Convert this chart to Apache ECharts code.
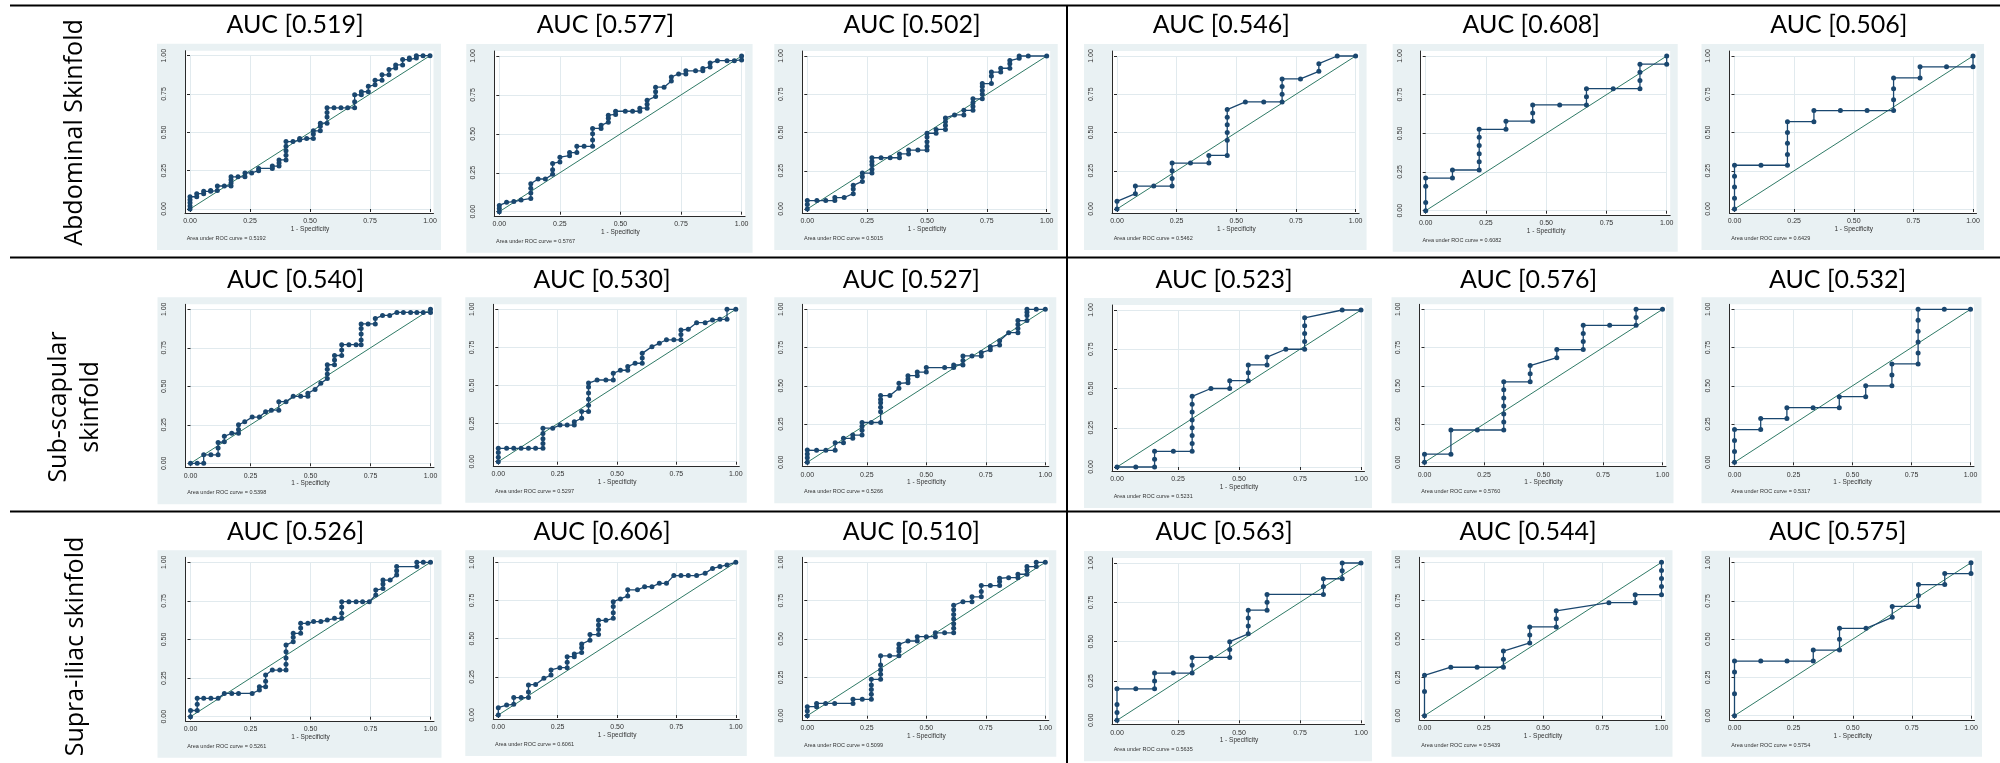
<!DOCTYPE html>
<html><head><meta charset="utf-8">
<script src="https://cdn.jsdelivr.net/npm/echarts@6.0.0/dist/echarts.min.js"></script>
<style>html,body{margin:0;padding:0;background:#fff}#c{width:2000px;height:763px}</style>
</head><body><div id="c"></div>
<script>
// ---------------- DATA ----------------
const rowLabels = ['Abdominal Skinfold', 'Sub-scapular\nskinfold', 'Supra-iliac skinfold'];
const aucTitles = ['0.519','0.577','0.502','0.546','0.608','0.506',
                   '0.540','0.530','0.527','0.523','0.576','0.532',
                   '0.526','0.606','0.510','0.563','0.544','0.575'];
const aucFootnotes = ['0.5192','0.5767','0.5015','0.5462','0.6082','0.6429',
                      '0.5398','0.5297','0.5266','0.5231','0.5760','0.5317',
                      '0.5261','0.6061','0.5099','0.5635','0.5439','0.5754'];
const axisTicks = [0, 0.25, 0.5, 0.75, 1];
const xAxisName = '1 - Specificity';
const diagonal = [[0,0],[1,1]];

const roc_abd_1 = [[0,0],[0,0.02],[0,0.04],[0,0.06],[0,0.08],[0.028,0.08],[0.028,0.10],[0.057,0.10],[0.057,0.115],[0.086,0.115],[0.086,0.12],[0.114,0.12],[0.114,0.15],[0.143,0.15],[0.171,0.15],[0.171,0.17],[0.171,0.19],[0.171,0.21],[0.2,0.21],[0.229,0.21],[0.229,0.235],[0.257,0.235],[0.286,0.25],[0.286,0.265],[0.343,0.265],[0.343,0.28],[0.371,0.28],[0.371,0.30],[0.371,0.32],[0.4,0.32],[0.4,0.35],[0.4,0.38],[0.4,0.41],[0.4,0.44],[0.429,0.44],[0.457,0.45],[0.457,0.46],[0.486,0.46],[0.514,0.46],[0.514,0.49],[0.514,0.51],[0.543,0.51],[0.543,0.54],[0.543,0.56],[0.571,0.56],[0.571,0.6],[0.571,0.63],[0.571,0.66],[0.6,0.66],[0.629,0.66],[0.657,0.66],[0.686,0.66],[0.686,0.7],[0.686,0.745],[0.714,0.745],[0.714,0.765],[0.743,0.765],[0.743,0.8],[0.771,0.81],[0.771,0.84],[0.8,0.84],[0.8,0.875],[0.829,0.875],[0.829,0.91],[0.857,0.92],[0.857,0.94],[0.886,0.94],[0.886,0.975],[0.914,0.975],[0.914,0.985],[0.943,0.985],[0.943,1],[0.971,1],[1,1]];
const roc_abd_2 = [[0,0],[0,0.02],[0,0.04],[0.03,0.06],[0.06,0.065],[0.09,0.075],[0.13,0.085],[0.13,0.12],[0.13,0.15],[0.13,0.18],[0.16,0.21],[0.19,0.21],[0.22,0.24],[0.22,0.27],[0.22,0.31],[0.25,0.32],[0.25,0.35],[0.29,0.36],[0.29,0.38],[0.32,0.38],[0.32,0.42],[0.35,0.42],[0.385,0.42],[0.385,0.46],[0.385,0.50],[0.385,0.535],[0.42,0.535],[0.42,0.555],[0.45,0.575],[0.45,0.6],[0.45,0.62],[0.48,0.625],[0.48,0.645],[0.52,0.645],[0.55,0.645],[0.58,0.645],[0.58,0.665],[0.61,0.665],[0.61,0.69],[0.61,0.715],[0.645,0.74],[0.645,0.77],[0.645,0.80],[0.68,0.80],[0.71,0.84],[0.71,0.865],[0.74,0.885],[0.77,0.885],[0.77,0.905],[0.81,0.905],[0.84,0.905],[0.84,0.92],[0.87,0.93],[0.87,0.955],[0.9,0.97],[0.94,0.97],[0.97,0.97],[1,0.975],[1,1]];
const roc_abd_3 = [[0,0],[0,0.03],[0,0.055],[0.04,0.055],[0.077,0.055],[0.115,0.055],[0.115,0.075],[0.154,0.075],[0.192,0.1],[0.192,0.13],[0.192,0.155],[0.23,0.18],[0.23,0.21],[0.23,0.235],[0.27,0.235],[0.27,0.26],[0.27,0.29],[0.27,0.31],[0.27,0.335],[0.308,0.335],[0.346,0.335],[0.385,0.335],[0.385,0.36],[0.423,0.36],[0.423,0.385],[0.462,0.385],[0.5,0.385],[0.5,0.41],[0.5,0.44],[0.5,0.47],[0.5,0.495],[0.538,0.495],[0.538,0.52],[0.577,0.52],[0.577,0.545],[0.577,0.57],[0.577,0.595],[0.615,0.615],[0.654,0.615],[0.654,0.645],[0.692,0.645],[0.692,0.67],[0.692,0.695],[0.692,0.72],[0.731,0.72],[0.731,0.75],[0.731,0.775],[0.731,0.8],[0.731,0.82],[0.769,0.82],[0.769,0.87],[0.769,0.895],[0.808,0.895],[0.808,0.92],[0.846,0.92],[0.846,0.95],[0.846,0.97],[0.885,0.985],[0.885,1],[0.923,1],[1,1]];
const roc_abd_4 = [[0,0],[0,0.05],[0.077,0.1],[0.077,0.15],[0.154,0.15],[0.231,0.15],[0.231,0.2],[0.231,0.25],[0.231,0.3],[0.308,0.3],[0.385,0.3],[0.385,0.35],[0.462,0.35],[0.462,0.45],[0.462,0.5],[0.462,0.55],[0.462,0.6],[0.462,0.65],[0.538,0.7],[0.615,0.7],[0.692,0.7],[0.692,0.75],[0.692,0.8],[0.692,0.85],[0.769,0.85],[0.846,0.9],[0.846,0.95],[0.923,1],[1,1]];
const roc_abd_5 = [[0,0],[0,0.053],[0,0.158],[0,0.211],[0.111,0.211],[0.111,0.263],[0.222,0.263],[0.222,0.316],[0.222,0.368],[0.222,0.421],[0.222,0.474],[0.222,0.526],[0.333,0.526],[0.333,0.579],[0.444,0.579],[0.444,0.632],[0.444,0.684],[0.556,0.684],[0.667,0.684],[0.667,0.737],[0.667,0.789],[0.778,0.789],[0.889,0.789],[0.889,0.842],[0.889,0.895],[0.889,0.947],[1,0.947],[1,1]];
const roc_abd_6 = [[0,0],[0,0.071],[0,0.143],[0,0.214],[0,0.286],[0.111,0.286],[0.222,0.286],[0.222,0.357],[0.222,0.429],[0.222,0.5],[0.222,0.571],[0.333,0.571],[0.333,0.643],[0.444,0.643],[0.556,0.643],[0.667,0.643],[0.667,0.714],[0.667,0.786],[0.667,0.857],[0.778,0.857],[0.778,0.929],[0.889,0.929],[1,0.929],[1,1]];

const roc_sub_1 = [[0,0],[0.028,0],[0.055,0],[0.055,0.055],[0.085,0.055],[0.115,0.055],[0.115,0.1],[0.115,0.135],[0.141,0.14],[0.141,0.175],[0.172,0.195],[0.2,0.195],[0.2,0.22],[0.2,0.25],[0.226,0.27],[0.257,0.3],[0.287,0.3],[0.313,0.335],[0.337,0.345],[0.368,0.345],[0.368,0.4],[0.398,0.4],[0.428,0.435],[0.459,0.435],[0.489,0.435],[0.489,0.455],[0.519,0.48],[0.543,0.52],[0.57,0.55],[0.57,0.58],[0.57,0.61],[0.57,0.64],[0.6,0.64],[0.6,0.67],[0.6,0.7],[0.63,0.7],[0.63,0.735],[0.63,0.77],[0.66,0.77],[0.69,0.77],[0.711,0.77],[0.711,0.8],[0.711,0.84],[0.711,0.875],[0.711,0.905],[0.74,0.905],[0.77,0.905],[0.77,0.94],[0.8,0.96],[0.83,0.96],[0.86,0.98],[0.887,0.98],[0.917,0.98],[0.943,0.98],[0.97,0.98],[1,0.98],[1,1]];
const roc_sub_2 = [[0,0],[0,0.03],[0,0.06],[0,0.088],[0.035,0.088],[0.065,0.088],[0.096,0.088],[0.127,0.088],[0.157,0.088],[0.188,0.088],[0.188,0.12],[0.188,0.15],[0.188,0.185],[0.188,0.22],[0.229,0.22],[0.26,0.24],[0.29,0.24],[0.32,0.24],[0.32,0.262],[0.351,0.285],[0.351,0.33],[0.38,0.33],[0.38,0.37],[0.38,0.41],[0.38,0.45],[0.38,0.49],[0.38,0.516],[0.416,0.536],[0.453,0.536],[0.484,0.536],[0.484,0.58],[0.514,0.6],[0.545,0.6],[0.545,0.624],[0.576,0.646],[0.606,0.646],[0.606,0.68],[0.606,0.711],[0.647,0.755],[0.678,0.777],[0.708,0.8],[0.739,0.8],[0.769,0.8],[0.769,0.835],[0.769,0.864],[0.8,0.869],[0.835,0.912],[0.871,0.912],[0.902,0.93],[0.933,0.934],[0.963,0.934],[0.963,1],[1,1]];
const roc_sub_3 = [[0,0],[0,0.03],[0,0.055],[0,0.08],[0.039,0.078],[0.078,0.078],[0.117,0.078],[0.117,0.128],[0.152,0.128],[0.152,0.157],[0.191,0.157],[0.191,0.178],[0.23,0.178],[0.23,0.21],[0.23,0.235],[0.23,0.26],[0.269,0.26],[0.308,0.26],[0.308,0.33],[0.308,0.36],[0.308,0.39],[0.308,0.41],[0.308,0.436],[0.347,0.436],[0.385,0.484],[0.385,0.516],[0.423,0.52],[0.423,0.545],[0.423,0.566],[0.462,0.566],[0.462,0.59],[0.5,0.59],[0.5,0.619],[0.577,0.619],[0.615,0.619],[0.615,0.636],[0.654,0.636],[0.654,0.665],[0.654,0.695],[0.692,0.695],[0.731,0.695],[0.731,0.717],[0.769,0.735],[0.769,0.756],[0.808,0.767],[0.808,0.795],[0.846,0.847],[0.885,0.847],[0.885,0.875],[0.885,0.9],[0.885,0.926],[0.923,0.926],[0.923,0.96],[0.923,0.98],[0.923,1],[0.962,1],[1,1]];
const roc_sub_4 = [[0,0],[0.077,0],[0.154,0],[0.154,0.05],[0.154,0.1],[0.231,0.1],[0.308,0.1],[0.308,0.15],[0.308,0.2],[0.308,0.25],[0.308,0.3],[0.308,0.35],[0.308,0.4],[0.308,0.45],[0.385,0.5],[0.462,0.5],[0.462,0.55],[0.538,0.55],[0.538,0.6],[0.538,0.65],[0.615,0.65],[0.615,0.7],[0.692,0.75],[0.769,0.75],[0.769,0.8],[0.769,0.85],[0.769,0.9],[0.769,0.95],[0.923,1],[1,1]];
const roc_sub_5 = [[0,0],[0,0.053],[0.111,0.053],[0.111,0.211],[0.222,0.211],[0.333,0.211],[0.333,0.263],[0.333,0.316],[0.333,0.368],[0.333,0.421],[0.333,0.474],[0.333,0.526],[0.444,0.526],[0.444,0.579],[0.444,0.632],[0.556,0.684],[0.556,0.737],[0.667,0.737],[0.667,0.789],[0.667,0.842],[0.667,0.895],[0.778,0.895],[0.889,0.895],[0.889,0.947],[0.889,1],[1,1]];
const roc_sub_6 = [[0,0],[0,0.071],[0,0.143],[0,0.214],[0.111,0.214],[0.111,0.286],[0.222,0.286],[0.222,0.357],[0.333,0.357],[0.444,0.357],[0.444,0.429],[0.556,0.429],[0.556,0.5],[0.667,0.5],[0.667,0.571],[0.667,0.643],[0.778,0.643],[0.778,0.714],[0.778,0.786],[0.778,0.857],[0.778,0.929],[0.778,1],[0.889,1],[1,1]];

const roc_sup_1 = [[0,0],[0,0.04],[0.028,0.04],[0.028,0.08],[0.028,0.119],[0.055,0.119],[0.085,0.119],[0.115,0.119],[0.141,0.151],[0.172,0.151],[0.2,0.151],[0.257,0.151],[0.287,0.173],[0.287,0.194],[0.313,0.194],[0.313,0.23],[0.313,0.27],[0.341,0.302],[0.372,0.302],[0.398,0.302],[0.398,0.34],[0.398,0.38],[0.398,0.42],[0.398,0.464],[0.428,0.486],[0.428,0.515],[0.428,0.54],[0.459,0.54],[0.459,0.575],[0.459,0.605],[0.489,0.605],[0.513,0.616],[0.543,0.616],[0.57,0.626],[0.6,0.637],[0.63,0.637],[0.63,0.67],[0.63,0.71],[0.63,0.745],[0.66,0.745],[0.69,0.745],[0.717,0.745],[0.745,0.745],[0.772,0.788],[0.772,0.82],[0.802,0.83],[0.802,0.86],[0.802,0.885],[0.832,0.885],[0.859,0.918],[0.859,0.945],[0.859,0.972],[0.943,0.972],[0.943,1],[0.97,1],[1,1]];
const roc_sup_2 = [[0,0],[0,0.048],[0.035,0.065],[0.065,0.07],[0.065,0.114],[0.096,0.114],[0.127,0.114],[0.127,0.15],[0.127,0.197],[0.157,0.2],[0.192,0.24],[0.222,0.262],[0.222,0.295],[0.259,0.31],[0.29,0.31],[0.29,0.345],[0.29,0.382],[0.32,0.382],[0.32,0.4],[0.351,0.41],[0.351,0.44],[0.351,0.465],[0.386,0.49],[0.386,0.527],[0.422,0.527],[0.422,0.56],[0.422,0.59],[0.422,0.62],[0.453,0.62],[0.484,0.633],[0.484,0.67],[0.484,0.71],[0.484,0.742],[0.514,0.76],[0.545,0.78],[0.545,0.82],[0.586,0.82],[0.616,0.84],[0.647,0.84],[0.678,0.862],[0.708,0.862],[0.739,0.913],[0.769,0.913],[0.8,0.913],[0.835,0.913],[0.871,0.928],[0.902,0.96],[0.933,0.972],[0.963,0.983],[1,1]];
const roc_sup_3 = [[0,0],[0,0.03],[0,0.059],[0.039,0.059],[0.039,0.08],[0.077,0.08],[0.115,0.08],[0.192,0.08],[0.192,0.107],[0.231,0.107],[0.269,0.107],[0.269,0.14],[0.269,0.17],[0.269,0.2],[0.269,0.237],[0.308,0.237],[0.308,0.27],[0.308,0.3],[0.308,0.33],[0.308,0.39],[0.346,0.39],[0.385,0.39],[0.385,0.42],[0.385,0.44],[0.385,0.465],[0.423,0.487],[0.462,0.487],[0.462,0.515],[0.5,0.515],[0.538,0.515],[0.538,0.54],[0.577,0.54],[0.615,0.54],[0.615,0.57],[0.615,0.6],[0.615,0.63],[0.615,0.66],[0.615,0.69],[0.615,0.72],[0.654,0.743],[0.692,0.743],[0.692,0.775],[0.731,0.775],[0.731,0.81],[0.731,0.848],[0.769,0.848],[0.808,0.848],[0.808,0.875],[0.808,0.896],[0.846,0.9],[0.885,0.9],[0.885,0.922],[0.923,0.922],[0.923,0.95],[0.923,0.972],[0.962,0.972],[0.962,1],[1,1]];
const roc_sup_4 = [[0,0],[0,0.05],[0,0.1],[0,0.2],[0.077,0.2],[0.154,0.2],[0.154,0.25],[0.154,0.3],[0.231,0.3],[0.308,0.3],[0.308,0.35],[0.308,0.4],[0.385,0.4],[0.462,0.4],[0.462,0.45],[0.462,0.5],[0.538,0.55],[0.538,0.6],[0.538,0.65],[0.538,0.7],[0.615,0.7],[0.615,0.75],[0.615,0.8],[0.846,0.8],[0.846,0.85],[0.846,0.9],[0.923,0.9],[0.923,0.95],[0.923,1],[1,1]];
const roc_sup_5 = [[0,0],[0,0.158],[0,0.263],[0.111,0.316],[0.222,0.316],[0.333,0.316],[0.333,0.368],[0.333,0.421],[0.444,0.474],[0.444,0.526],[0.444,0.579],[0.556,0.579],[0.556,0.632],[0.556,0.684],[0.778,0.737],[0.889,0.737],[0.889,0.789],[1,0.789],[1,0.842],[1,0.895],[1,0.947],[1,1]];
const roc_sup_6 = [[0,0],[0,0.143],[0,0.286],[0,0.357],[0.111,0.357],[0.222,0.357],[0.333,0.357],[0.333,0.429],[0.444,0.429],[0.444,0.5],[0.444,0.571],[0.556,0.571],[0.667,0.643],[0.667,0.714],[0.778,0.714],[0.778,0.786],[0.778,0.857],[0.889,0.857],[0.889,0.929],[1,0.929],[1,1]];

const rocCurves = [roc_abd_1, roc_abd_2, roc_abd_3, roc_abd_4, roc_abd_5, roc_abd_6,
                   roc_sub_1, roc_sub_2, roc_sub_3, roc_sub_4, roc_sub_5, roc_sub_6,
                   roc_sup_1, roc_sup_2, roc_sup_3, roc_sup_4, roc_sup_5, roc_sup_6];

// ---------------- LAYOUT (pixels) ----------------
// data rectangle of each panel: [left, top, width, height]
const panelRects = [
  [190, 55.7, 240, 153.3], [499.3, 56, 242.3, 155.7], [807.3, 56, 239.4, 153],
  [1117, 56, 238.6, 153], [1425.7, 56, 241, 154.7], [1734.5, 56, 238.5, 153],
  [190.5, 309.3, 240, 154], [498.3, 309.3, 237.5, 152.4], [807.3, 309.3, 238, 153],
  [1117, 310, 244, 157], [1424.5, 309.3, 238, 153], [1734.5, 309.3, 236, 153],
  [190.5, 562.3, 240, 154.4], [498.3, 562.3, 237.5, 152.7], [807.3, 562.3, 238, 153.4],
  [1117, 563, 244, 157.3], [1424.5, 562.3, 237, 153.4], [1734.5, 562.7, 236.5, 153]
];
const titleRowY = [25, 280, 532];
const rowLabelPos = [[75, 132.5], [75, 407], [76, 646.5]];

const BG = '#E9F1F3', GRIDC = '#E1EAEE', AXC = '#2a2a2a', NAVY = '#1A476F', REF = '#2F7A66';
const TICKFONT = '"Liberation Sans", Arial, sans-serif';

const grids = [], xAxes = [], yAxes = [], series = [], graphics = [];
const N = panelRects.length;
const tMin = axisTicks[0], tMax = axisTicks[axisTicks.length - 1], tInt = axisTicks[1] - axisTicks[0];

panelRects.forEach((r, i) => {
  const [L, T, Wd, H] = r;
  grids[i] = {left: L, top: T, width: Wd, height: H, z: 2, outerBoundsMode: 'none', containLabel: false};
  grids[N + i] = {left: L - 5, top: T - 5, width: Wd + 8.5, height: H + 9.3, show: true,
                  backgroundColor: '#ffffff', borderWidth: 0, z: 1, outerBoundsMode: 'none', containLabel: false};
  grids[2 * N + i] = {left: L - 33, top: T - 12, width: Wd + 44, height: H + 53, show: true,
                      backgroundColor: BG, borderWidth: 0, z: 0, outerBoundsMode: 'none', containLabel: false};

  xAxes[i] = {type: 'value', gridIndex: i, min: tMin, max: tMax, interval: tInt, position: 'bottom', offset: 4.3, z: 3,
    axisLine: {show: false},
    axisTick: {show: true, length: 3, lineStyle: {color: AXC, width: 1}},
    axisLabel: {show: true, fontSize: 7, color: '#333', margin: 4.5, fontFamily: TICKFONT, formatter: v => v.toFixed(2)},
    splitLine: {show: true, lineStyle: {color: GRIDC, width: 1}},
    name: xAxisName, nameLocation: 'middle', nameGap: 12.5,
    nameTextStyle: {fontSize: 6.5, color: '#333', fontFamily: TICKFONT}};
  yAxes[i] = {type: 'value', gridIndex: i, min: tMin, max: tMax, interval: tInt, position: 'left', offset: 5, z: 3,
    axisLine: {show: false},
    axisTick: {show: true, length: 3, lineStyle: {color: AXC, width: 1}},
    axisLabel: {show: true, rotate: 90, fontSize: 7, color: '#333', margin: 17.5, fontFamily: TICKFONT, formatter: v => v.toFixed(2)},
    splitLine: {show: true, lineStyle: {color: GRIDC, width: 1}}};
  xAxes[N + i] = {type: 'value', gridIndex: N + i, min: 0, max: 1, position: 'bottom', z: 3,
    axisLine: {show: true, onZero: false, lineStyle: {color: AXC, width: 1}},
    axisTick: {show: false}, axisLabel: {show: false}, splitLine: {show: false}};
  yAxes[N + i] = {type: 'value', gridIndex: N + i, min: 0, max: 1, position: 'left', z: 3,
    axisLine: {show: true, onZero: false, lineStyle: {color: AXC, width: 1}},
    axisTick: {show: false}, axisLabel: {show: false}, splitLine: {show: false}};
  xAxes[2 * N + i] = {type: 'value', gridIndex: 2 * N + i, min: 0, max: 1, show: false};
  yAxes[2 * N + i] = {type: 'value', gridIndex: 2 * N + i, min: 0, max: 1, show: false};

  series.push({type: 'line', xAxisIndex: i, yAxisIndex: i, data: diagonal, symbol: 'none', silent: true,
    lineStyle: {color: REF, width: 1}, z: 4, clip: false, animation: false});
  series.push({type: 'line', xAxisIndex: i, yAxisIndex: i, data: rocCurves[i], symbol: 'circle', symbolSize: 5,
    showSymbol: true, showAllSymbol: true, silent: true, lineStyle: {color: NAVY, width: 1.3},
    itemStyle: {color: NAVY}, z: 5, clip: false, animation: false});

  const row = Math.floor(i / 6);
  graphics.push({type: 'text', x: L + Wd / 2 - 15, y: titleRowY[row], z: 10, silent: true,
    style: {text: 'AUC [' + aucTitles[i] + ']', font: '25px Lato, "Open Sans", sans-serif', fill: '#000',
            align: 'center', verticalAlign: 'middle', textAlign: 'center', textVerticalAlign: 'middle'}});
  graphics.push({type: 'text', x: L - 3.3, y: T + H + 29.5, z: 10, silent: true,
    style: {text: 'Area under ROC curve = ' + aucFootnotes[i], font: '5.5px ' + TICKFONT, fill: '#333',
            align: 'left', verticalAlign: 'middle', textAlign: 'left', textVerticalAlign: 'middle'}});
});

rowLabels.forEach((t, k) => {
  graphics.push({type: 'text', x: rowLabelPos[k][0], y: rowLabelPos[k][1], rotation: Math.PI / 2, z: 10, silent: true,
    style: {text: t, font: '25px "Open Sans", sans-serif', fill: '#000', lineHeight: 32,
            align: 'center', verticalAlign: 'middle', textAlign: 'center', textVerticalAlign: 'middle'}});
});

[[10, 5.5, 2000, 5.5], [10, 257.5, 2000, 257.5], [10, 511.5, 2000, 511.5], [1067, 5, 1067, 763]].forEach(s => {
  graphics.push({type: 'line', shape: {x1: s[0], y1: s[1], x2: s[2], y2: s[3]}, z: 10, silent: true,
    style: {stroke: '#000', lineWidth: 2}});
});

const chart = echarts.init(document.getElementById('c'), null, {renderer: 'canvas', width: 2000, height: 763});
chart.setOption({
  animation: false,
  backgroundColor: '#ffffff',
  grid: grids, xAxis: xAxes, yAxis: yAxes, series: series, graphic: graphics
});
</script></body></html>
